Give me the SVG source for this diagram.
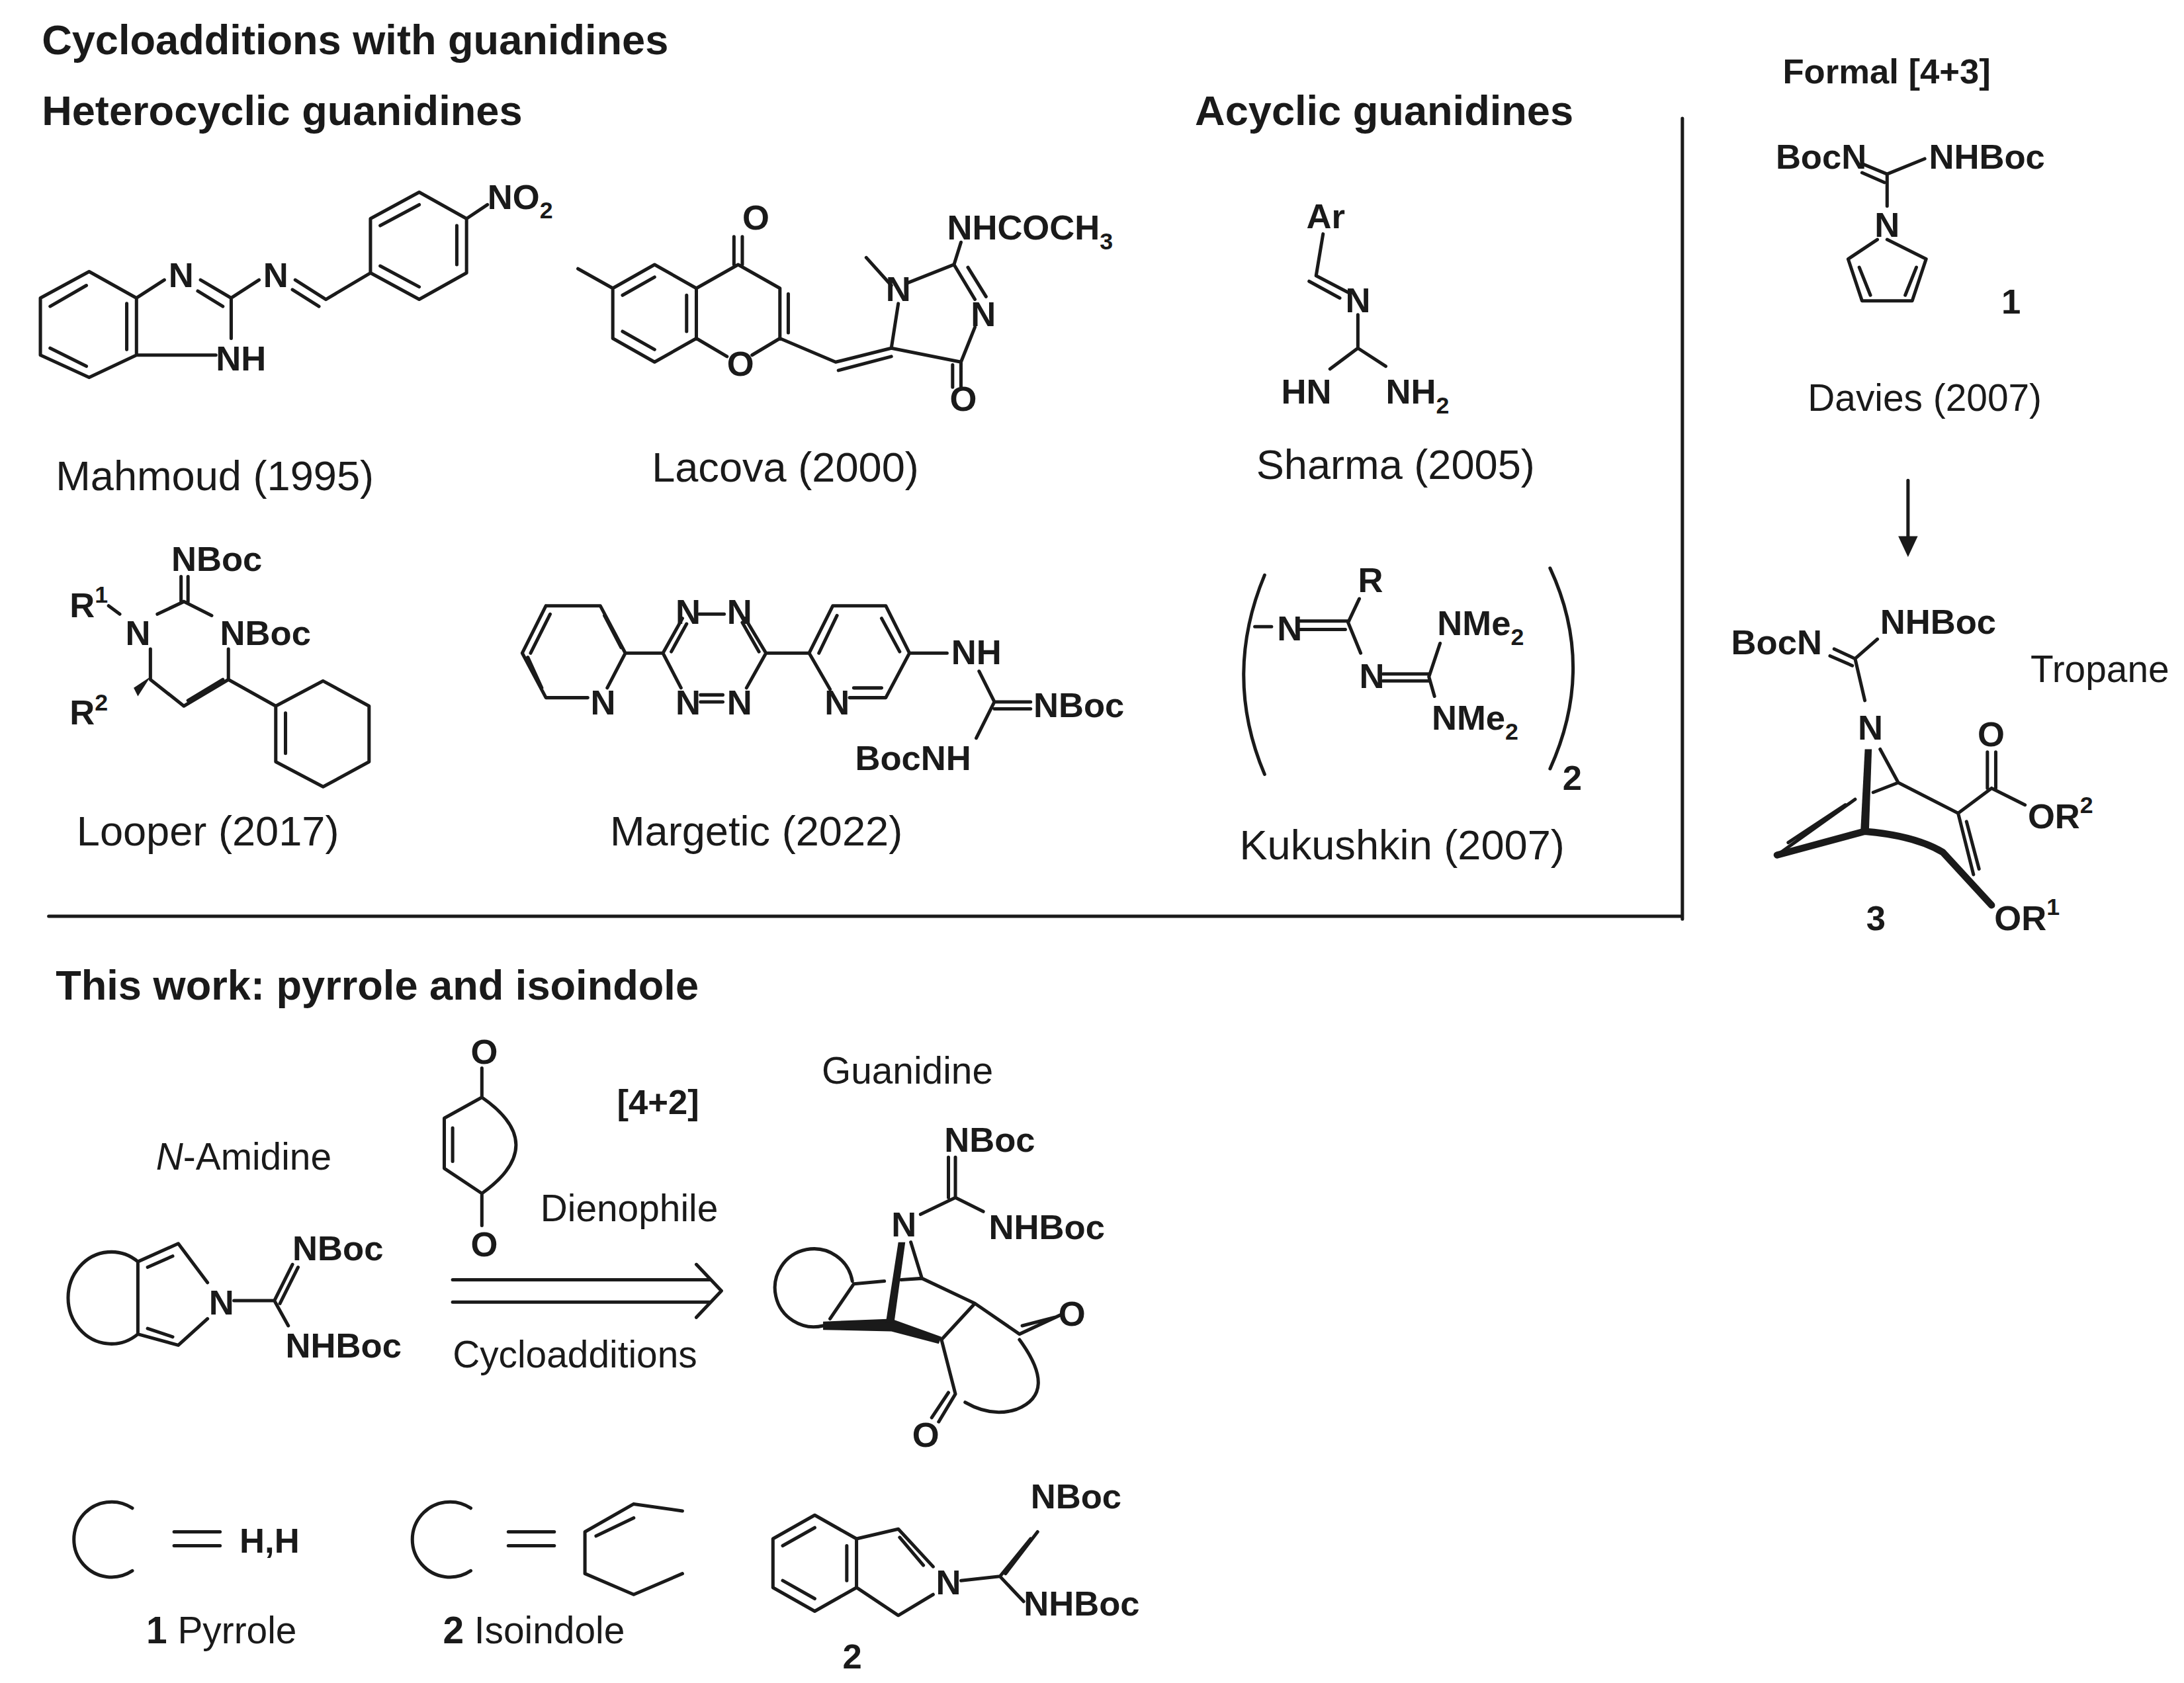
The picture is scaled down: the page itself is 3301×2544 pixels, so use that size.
<svg xmlns="http://www.w3.org/2000/svg" width="3301" height="2544" viewBox="0 0 3301 2544">
<style>
text{font-family:"Liberation Sans",Arial,sans-serif;fill:#1a1a1a}
.h{font-weight:bold;font-size:30px}
.a{font-weight:bold;font-size:25px}
.l{font-size:30px}
.m{font-size:27px}
.b{fill:none;stroke:#1a1a1a;stroke-width:2.4;stroke-linejoin:round;stroke-linecap:round}
.w{fill:none;stroke:#1a1a1a;stroke-width:5;stroke-linejoin:round;stroke-linecap:round}
.s{font-size:17px}
</style>
<rect width="3301" height="2544" fill="#fff"/>
<g transform="scale(2.105)">
<g id="headings">
<text class="h" x="30" y="39">Cycloadditions with guanidines</text>
<text class="h" x="30" y="90">Heterocyclic guanidines</text>
<text class="h" x="858" y="90">Acyclic guanidines</text>
<text class="a" x="1280" y="60">Formal [4+3]</text>
<text class="h" x="40" y="718">This work: pyrrole and isoindole</text>
</g>
<g id="frame"><path class="b" d="M1208 85V660M35 658H1208"/></g>

<g id="mahmoud">
<path class="b" d="M64 195L29 214V255L64 271L98 255V214Z M36 220L62 205M91 218V251M36 250L62 263 M98 214L118 201M144 201L166 214M142 209L160 220M166 214V243M98 255L155 255 M166 214L186 201M212 201L234 215L266 196M210 208L229 220 M266 196L301 215L335 196V157L301 138L266 157Z M273 191L301 206M328 162V190M273 162L301 147 M335 157L350 147"/>
<text class="a" x="121" y="206">N</text><text class="a" x="155" y="266">NH</text>
<text class="a" x="189" y="206">N</text>
<text class="a" x="350" y="150">NO<tspan class="s" dy="7">2</tspan></text>
<text class="l" x="40" y="352">Mahmoud (1995)</text>
</g>

<g id="lacova">
<path class="b" d="M440 207L470 190L500 207L500 243L470 260L440 243Z M447 212L470 199M493 212V238M447 238L470 251 M440 207L415 193 M500 207L530 190L560 207L560 243L540 255M522 256L500 243 M527 190V170M533 190V170 M566 211V239 M560 243L600 260L640 250M602 266L640 256 M640 250L645 218M652 203L685 190L700 215M700 235L690 260L640 250M695 192L708 213 M690 260V278M684 262L684 278 M640 205L622 185M685 190L690 174"/>
<text class="a" x="533" y="165">O</text><text class="a" x="522" y="270">O</text>
<text class="a" x="636" y="216">N</text><text class="a" x="697" y="234">N</text><text class="a" x="682" y="295">O</text>
<text class="a" x="680" y="172">NHCOCH<tspan class="s" dy="7">3</tspan></text>
<text class="l" x="468" y="346">Lacova (2000)</text>
</g>

<g id="sharma">
<path class="b" d="M950 168L945 198L968 210M940 202L962 214 M975 226V250L955 265M975 250L995 263"/>
<text class="a" x="938" y="164">Ar</text><text class="a" x="966" y="224">N</text>
<text class="a" x="920" y="290">HN</text><text class="a" x="995" y="290">NH<tspan class="s" dy="7">2</tspan></text>
<text class="l" x="902" y="344">Sharma (2005)</text>
</g>

<g id="davies">
<text class="a" x="1275" y="121">BocN</text><text class="a" x="1385" y="121">NHBoc</text>
<path class="b" d="M1338 118L1355 125L1382 114M1337 124L1353 131M1355 125V148 M1355 172L1383 186L1373 216L1337 216L1327 186L1348 172 M1376 192L1368 212M1335 192L1343 212"/>
<text class="a" x="1346" y="170">N</text>
<text class="a" x="1437" y="225">1</text>
<text class="m" x="1298" y="295">Davies (2007)</text>
<path class="b" d="M1370 345V395"/><path d="M1363 385L1370 400L1377 385Z" fill="#1a1a1a"/>
</g>

<g id="tropane">
<text class="a" x="1243" y="470">BocN</text><text class="a" x="1350" y="455">NHBoc</text>
<text class="m" x="1458" y="490">Tropane</text>
<path class="b" d="M1317 466L1332 473L1348 459M1314 471L1330 478 M1332 473L1339 503 M1350 538L1363 562M1345 569L1363 562L1406 584L1430 566L1454 578M1427 566V540M1433 566V540 M1406 584L1417 628M1412 590L1421 624 M1276 614L1332 574M1284 605L1325 578"/>
<path d="M1339 538L1344 538L1342 596L1336 596Z" fill="#1a1a1a"/>
<path class="w" d="M1276 614L1339 597Q1375 600 1395 612L1430 650"/>
<text class="a" x="1334" y="531">N</text>
<text class="a" x="1420" y="536">O</text>
<text class="a" x="1456" y="595">OR<tspan class="s" dy="-11">2</tspan></text>
<text class="a" x="1340" y="668">3</text>
<text class="a" x="1432" y="668">OR<tspan class="s" dy="-11">1</tspan></text>
</g>

<g id="looper">
<text class="a" x="123" y="410">NBoc</text>
<text class="a" x="50" y="443">R<tspan class="s" dy="-10">1</tspan></text>
<text class="a" x="90" y="463">N</text><text class="a" x="158" y="463">NBoc</text>
<text class="a" x="50" y="520">R<tspan class="s" dy="-10">2</tspan></text>
<path class="b" d="M130 414V432M135 414V432 M132 432L113 441M132 432L152 442 M78 435L86 441 M108 466V488L132 507L164 488V466 M135 503L160 488 M164 488L198 507 M198 507L232 489L265 507V547L232 565L198 547Z M205 512V541"/>
<path d="M108 486L96 494L99 500Z" fill="#1a1a1a"/>
<text class="l" x="55" y="607">Looper (2017)</text>
</g>

<g id="margetic">
<path class="b" d="M392 435L431 435L449 469L436 494M422 501L392 501L375 469L392 435 M381 469L395 441M389 494L379 472M434 442L446 465 M449 469H476 M476 469L490 444M535 444L550 469L536 494M489 494L476 469 M482 468L493 448M545 468L533 447 M502 441H520M503 499H519M503 504H519 M550 469H581 M581 469L598 435H636L653 469L636 501H610M596 495L581 469 M588 469L601 442M646 468L633 444M613 494H633 M653 469H680 M703 482L714 504L740 504M714 509L740 509 M714 504L701 530"/>
<text class="a" x="485" y="448">N</text><text class="a" x="522" y="448">N</text>
<text class="a" x="485" y="513">N</text><text class="a" x="522" y="513">N</text>
<text class="a" x="424" y="513">N</text><text class="a" x="592" y="513">N</text>
<text class="a" x="683" y="477">NH</text>
<text class="a" x="742" y="515">NBoc</text>
<text class="a" x="614" y="553">BocNH</text>
<text class="l" x="438" y="607">Margetic (2022)</text>
</g>

<g id="kukushkin">
<path class="b" d="M908 413Q878 485 908 556M1113 408Q1146 479 1113 552 M901 450H913M932 446H968M932 452H966 M968 447L976 430 M968 447L977 469 M993 484H1026M993 489H1026 M1026 486L1034 462 M1026 486L1030 500"/>
<text class="a" x="975" y="425">R</text>
<text class="a" x="917" y="460">N</text><text class="a" x="976" y="494">N</text>
<text class="a" x="1032" y="456">NMe<tspan class="s" dy="7">2</tspan></text>
<text class="a" x="1028" y="524">NMe<tspan class="s" dy="7">2</tspan></text>
<text class="a" x="1122" y="567">2</text>
<text class="l" x="890" y="617">Kukushkin (2007)</text>
</g>

<g id="amidine">
<text class="m" x="112" y="840"><tspan font-style="italic">N</tspan>-Amidine</text>
<path class="b" d="M99 906A31 33 0 1 0 99 958 M99 906V958 M99 906L128 893L149 921M149 947L128 966L99 958 M106 910L124 902M106 954L124 960 M168 934H197L210 908M201 936L214 910 M197 934L207 952"/>
<text class="a" x="150" y="944">N</text>
<text class="a" x="210" y="905">NBoc</text>
<text class="a" x="205" y="975">NHBoc</text>
</g>

<g id="dienophile">
<path class="b" d="M346 767V788 M346 788L319 803V839L346 857 M346 788Q395 822 346 857 M325 810V834 M346 857V880"/>
<text class="a" x="338" y="764">O</text><text class="a" x="338" y="902">O</text>
<text class="a" x="443" y="800">[4+2]</text>
<text class="m" x="388" y="877">Dienophile</text>
</g>

<g id="arrow">
<path class="b" d="M325 919H510M325 935H510M500 908L518 927L500 946"/>
<text class="m" x="325" y="982">Cycloadditions</text>
</g>

<g id="product">
<text class="m" x="590" y="778">Guanidine</text>
<path class="b" d="M612 920A28 28 0 1 0 591 952 M613 922L635 920 M613 922L596 947 M686 831V860M681 831V860 M686 860L661 872M686 860L706 870 M654 892L662 918M647 919L662 918L700 936L676 962M700 936L732 958L762 944M734 952L757 946 M676 962L686 1001L674 1021M681 1000L669 1018 M732 962Q760 1000 730 1012Q712 1018 693 1007"/>
<path d="M591 949L640 947L676 960L674 965L640 956L591 955Z" fill="#1a1a1a"/>
<path d="M645 892L650 892L642 950L636 950Z" fill="#1a1a1a"/>
<text class="a" x="640" y="888">N</text>
<text class="a" x="678" y="827">NBoc</text>
<text class="a" x="710" y="890">NHBoc</text>
<text class="a" x="760" y="952">O</text>
<text class="a" x="655" y="1039">O</text>
</g>

<g id="legend">
<path class="b" d="M95 1083A27 27 0 1 0 95 1128 M125 1100H158M125 1110H158"/>
<text class="a" x="172" y="1115">H,H</text>
<text class="m" x="105" y="1180"><tspan font-weight="bold">1</tspan> Pyrrole</text>
<path class="b" d="M338 1083A27 27 0 1 0 338 1128 M365 1100H398M365 1110H398 M490 1085L455 1080L420 1100V1130L455 1145L490 1130 M428 1103L455 1090"/>
<text class="m" x="318" y="1180"><tspan font-weight="bold">2</tspan> Isoindole</text>
</g>

<g id="isoindole">
<path class="b" d="M555 1105L585 1088L615 1105V1140L585 1157L555 1140Z M562 1110L585 1097M608 1110V1135M562 1135L585 1148 M615 1105L645 1098L670 1125M670 1145L645 1160L615 1140 M646 1104L663 1124 M690 1135L718 1132L740 1105M722 1130L745 1100 M718 1132L735 1150"/>
<text class="a" x="672" y="1145">N</text>
<text class="a" x="740" y="1083">NBoc</text>
<text class="a" x="735" y="1160">NHBoc</text>
<text class="a" x="605" y="1198">2</text>
</g>
</g>
</svg>
